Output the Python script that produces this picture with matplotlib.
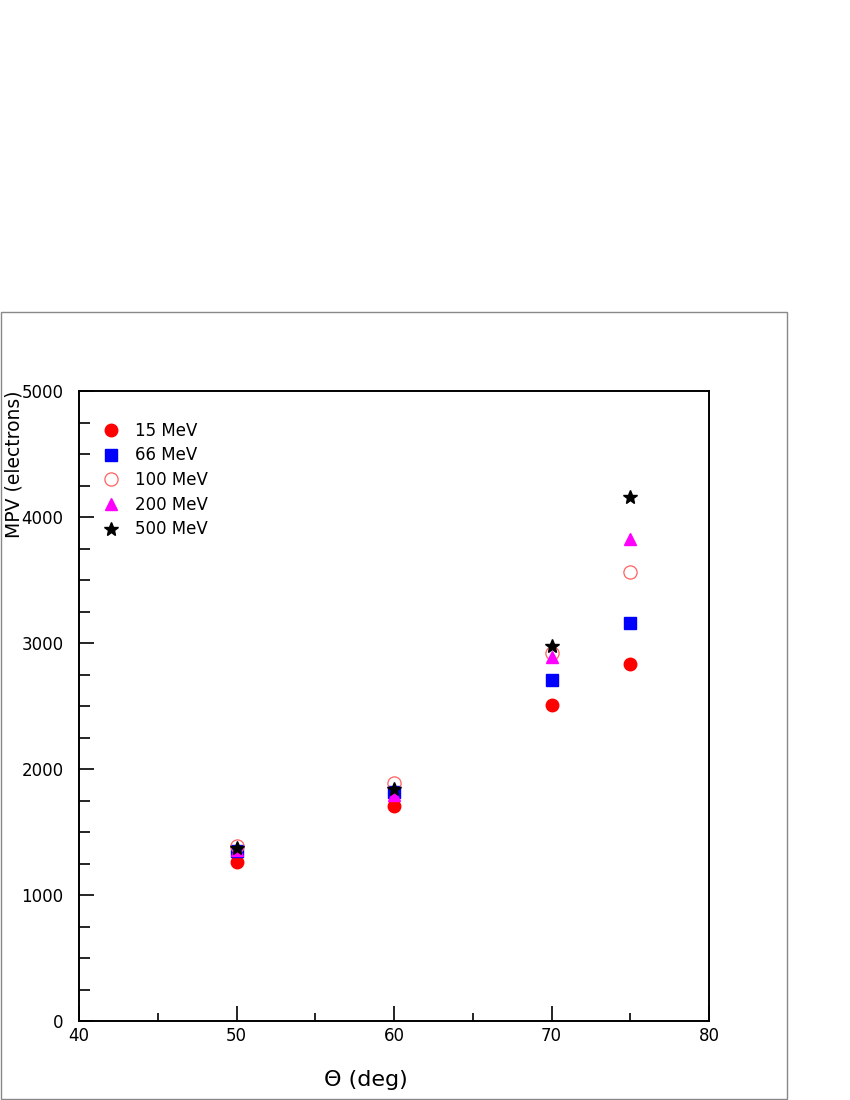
import matplotlib
matplotlib.use("Agg")
import matplotlib.pyplot as plt
from matplotlib.patches import Rectangle
from matplotlib.ticker import MultipleLocator

theta = [50, 60, 70, 75]
labels = ["15 MeV", "66 MeV", "100 MeV", "200 MeV", "500 MeV"]
mpv_15 = [1258, 1706, 2508, 2833]
mpv_66 = [1350, 1815, 2706, 3159]
mpv_100 = [1390, 1889, 2921, 3563]
mpv_200 = [1357, 1794, 2889, 3825]
mpv_500 = [1373, 1841, 2976, 4159]

fig = plt.figure(figsize=(8.5, 11), dpi=100)

# grey canvas frame
fig.patches.append(Rectangle((0.001, 0.001), 0.925, 0.7155, transform=fig.transFigure,
                             fill=False, edgecolor="#888888", linewidth=1.0))

ax = fig.add_axes([79 / 850, 79 / 1100, 630 / 850, 630 / 1100])

ax.plot(theta, mpv_15, "o", color="red", markersize=9, label=labels[0])
ax.plot(theta, mpv_66, "s", color="blue", markersize=8.3, label=labels[1])
ax.plot(theta, mpv_100, "o", mfc="none", mec="#ff6060", mew=0.9, markersize=9.5, label=labels[2])
ax.plot(theta, mpv_200, "^", color="magenta", markersize=9, label=labels[3])
ax.plot(theta, mpv_500, "*", color="black", markersize=10, label=labels[4])

ax.set_xlim(40, 80)
ax.set_ylim(0, 5000)
ax.xaxis.set_major_locator(MultipleLocator(10))
ax.xaxis.set_minor_locator(MultipleLocator(5))
ax.yaxis.set_major_locator(MultipleLocator(1000))
ax.yaxis.set_minor_locator(MultipleLocator(250))
ax.tick_params(which="both", direction="in", top=False, right=False, labelsize=12)
ax.tick_params(which="major", length=11, width=1.2)
ax.tick_params(which="minor", length=6, width=1.2)
ax.tick_params(axis="y", which="minor", length=8)
ax.tick_params(axis="x", pad=4)
ax.tick_params(axis="y", pad=11)
for s in ax.spines.values():
    s.set_linewidth(1.4)

ax.set_xlabel("\u0398 (deg)", fontsize=16, x=0.455, labelpad=18)
ax.set_ylabel("MPV (electrons)", fontsize=13.5, loc="top")
ax.yaxis.set_label_coords(-0.088, 1.0)

ax.legend(loc="upper left", frameon=False, fontsize=12, bbox_to_anchor=(0.007, 0.975),
          handletextpad=0.7, labelspacing=0.4, handlelength=1.5)

fig.savefig("out.png", dpi=100)
